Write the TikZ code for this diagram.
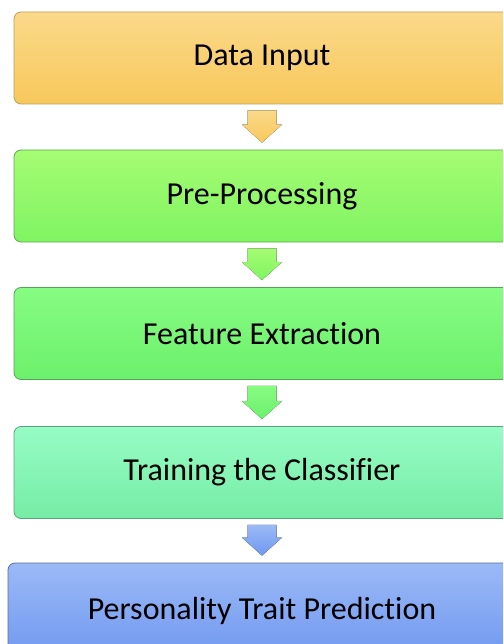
\documentclass[tikz,border=0pt]{standalone}
\usepackage{fontspec}
\setmainfont{Carlito}[Ligatures=NoCommon]
\usetikzlibrary{calc}
\definecolor{oraT}{RGB}{251,217,138}
\definecolor{oraB}{RGB}{247,200,92}
\definecolor{oraD}{RGB}{190,160,90}
\definecolor{grnaT}{RGB}{165,252,115}
\definecolor{grnaB}{RGB}{128,244,98}
\definecolor{grnaD}{RGB}{95,170,80}
\definecolor{grnbT}{RGB}{135,252,130}
\definecolor{grnbB}{RGB}{108,240,108}
\definecolor{grnbD}{RGB}{85,165,85}
\definecolor{mntT}{RGB}{150,252,196}
\definecolor{mntB}{RGB}{118,236,166}
\definecolor{mntD}{RGB}{90,165,125}
\definecolor{bluT}{RGB}{155,185,246}
\definecolor{bluB}{RGB}{112,152,240}
\definecolor{bluD}{RGB}{85,110,165}
\tikzset{
  stagebox/.style={rectangle, rounded corners=7pt, line width=0.8pt,
    minimum width=496pt, minimum height=92pt, inner sep=0pt,
    font=\fontsize{32}{37}\selectfont, text=black}
}
\newcommand{\flowarrow}[4]{%
  \fill[top color=#3, bottom color=#4]
    ($(#1.south)+(-14.5,6)$) -- ($(#1.south)+(14.5,6)$) --
    ($(#2.north)+(14.5,-25)$) -- ($(#2.north)+(20,-25)$) --
    ($(#2.north)+(0,-7)$) --
    ($(#2.north)+(-20,-25)$) -- ($(#2.north)+(-14.5,-25)$) -- cycle;}
\begin{document}
\begin{tikzpicture}[x=1pt,y=-1pt]
\useasboundingbox (0,0) rectangle (503,644);
\clip (0,0) rectangle (503,644);
\fill[white] (0,0) rectangle (503,644);
\node[stagebox, top color=oraT, bottom color=oraB, draw=oraD] (b1) at (262,58) {Data Input};
\node[stagebox, top color=grnaT, bottom color=grnaB, draw=grnaD] (b2) at (262,196) {Pre-Processing};
\node[stagebox, top color=grnbT, bottom color=grnbB, draw=grnbD] (b3) at (262,333.5) {Feature Extraction};
\node[stagebox, top color=mntT, bottom color=mntB, draw=mntD] (b4) at (262,472.5) {Training the Classifier};
\node[stagebox, top color=bluT, bottom color=bluB, draw=bluD, minimum width=508pt, minimum height=96pt] (b5) at (262,611) {Personality Trait Prediction};
\flowarrow{b1}{b2}{oraT}{oraB}
\flowarrow{b2}{b3}{grnaT}{grnaB}
\flowarrow{b3}{b4}{grnbT}{grnbB}
\flowarrow{b4}{b5}{bluT}{bluB}
\end{tikzpicture}
\end{document}
